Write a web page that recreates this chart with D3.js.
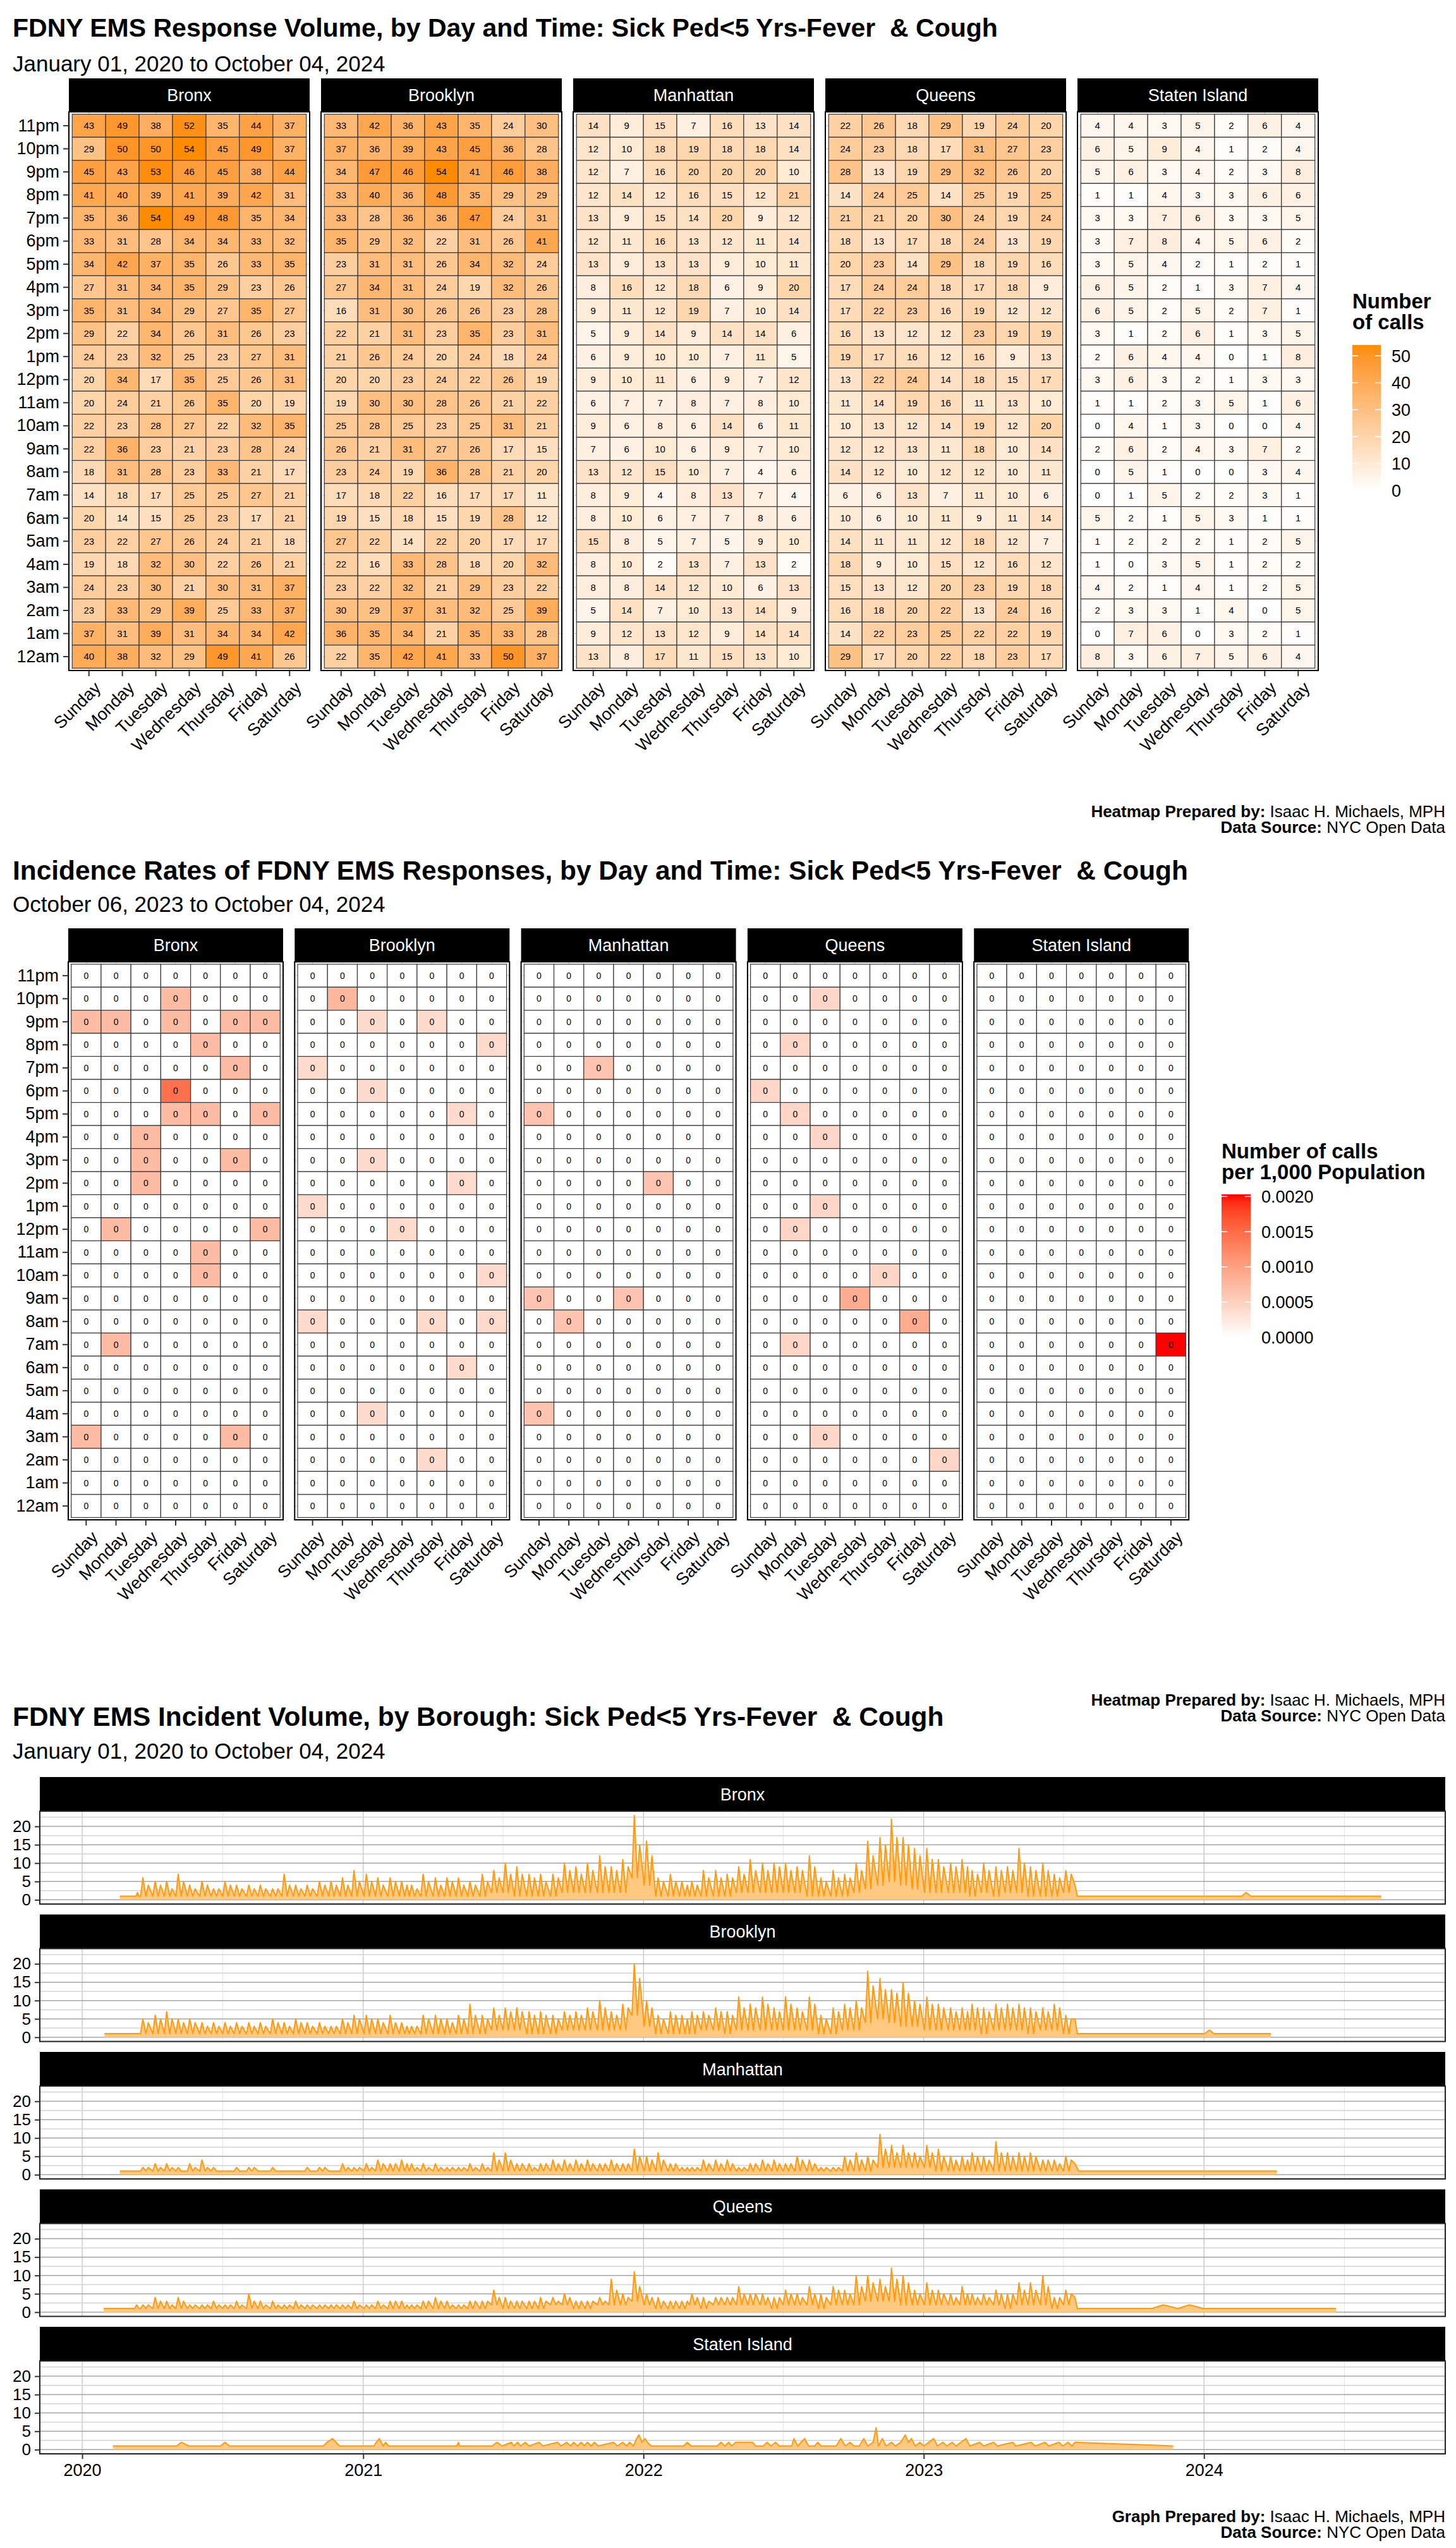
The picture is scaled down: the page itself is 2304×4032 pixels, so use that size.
<!DOCTYPE html>
<html>
<head>
<meta charset="utf-8">
<script src="https://cdn.jsdelivr.net/npm/d3@7"></script>
<style>
  body { margin: 0; background: #fff; }
  svg { display: block; }
  text { white-space: pre; }
</style>
</head>
<body>
<div id="chart"></div>
<script>
var W = 2304, H = 4032;
var FONT = "'Liberation Sans', Arial, Helvetica, sans-serif";

var boroughs = ["Bronx", "Brooklyn", "Manhattan", "Queens", "Staten Island"];
var days = ["Sunday", "Monday", "Tuesday", "Wednesday", "Thursday", "Friday", "Saturday"];
// top to bottom, as drawn
var hours = ["11pm", "10pm", "9pm", "8pm", "7pm", "6pm", "5pm", "4pm", "3pm", "2pm", "1pm", "12pm",
             "11am", "10am", "9am", "8am", "7am", "6am", "5am", "4am", "3am", "2am", "1am", "12am"];

// ---- heatmap 1: number of calls (rows follow `hours`, columns follow `days`)
var bronxCalls = [
  [43,49,38,52,35,44,37],[29,50,50,54,45,49,37],[45,43,53,46,45,38,44],[41,40,39,41,39,42,31],
  [35,36,54,49,48,35,34],[33,31,28,34,34,33,32],[34,42,37,35,26,33,35],[27,31,34,35,29,23,26],
  [35,31,34,29,27,35,27],[29,22,34,26,31,26,23],[24,23,32,25,23,27,31],[20,34,17,35,25,26,31],
  [20,24,21,26,35,20,19],[22,23,28,27,22,32,35],[22,36,23,21,23,28,24],[18,31,28,23,33,21,17],
  [14,18,17,25,25,27,21],[20,14,15,25,23,17,21],[23,22,27,26,24,21,18],[19,18,32,30,22,26,21],
  [24,23,30,21,30,31,37],[23,33,29,39,25,33,37],[37,31,39,31,34,34,42],[40,38,32,29,49,41,26]
];
var brooklynCalls = [
  [33,42,36,43,35,24,30],[37,36,39,43,45,36,28],[34,47,46,54,41,46,38],[33,40,36,48,35,29,29],
  [33,28,36,36,47,24,31],[35,29,32,22,31,26,41],[23,31,31,26,34,32,24],[27,34,31,24,19,32,26],
  [16,31,30,26,26,23,28],[22,21,31,23,35,23,31],[21,26,24,20,24,18,24],[20,20,23,24,22,26,19],
  [19,30,30,28,26,21,22],[25,28,25,23,25,31,21],[26,21,31,27,26,17,15],[23,24,19,36,28,21,20],
  [17,18,22,16,17,17,11],[19,15,18,15,19,28,12],[27,22,14,22,20,17,17],[22,16,33,28,18,20,32],
  [23,22,32,21,29,23,22],[30,29,37,31,32,25,39],[36,35,34,21,35,33,28],[22,35,42,41,33,50,37]
];
var manhattanCalls = [
  [14,9,15,7,16,13,14],[12,10,18,19,18,18,14],[12,7,16,20,20,20,10],[12,14,12,16,15,12,21],
  [13,9,15,14,20,9,12],[12,11,16,13,12,11,14],[13,9,13,13,9,10,11],[8,16,12,18,6,9,20],
  [9,11,12,19,7,10,14],[5,9,14,9,14,14,6],[6,9,10,10,7,11,5],[9,10,11,6,9,7,12],
  [6,7,7,8,7,8,10],[9,6,8,6,14,6,11],[7,6,10,6,9,7,10],[13,12,15,10,7,4,6],
  [8,9,4,8,13,7,4],[8,10,6,7,7,8,6],[15,8,5,7,5,9,10],[8,10,2,13,7,13,2],
  [8,8,14,12,10,6,13],[5,14,7,10,13,14,9],[9,12,13,12,9,14,14],[13,8,17,11,15,13,10]
];
var queensCalls = [
  [22,26,18,29,19,24,20],[24,23,18,17,31,27,23],[28,13,19,29,32,26,20],[14,24,25,14,25,19,25],
  [21,21,20,30,24,19,24],[18,13,17,18,24,13,19],[20,23,14,29,18,19,16],[17,24,24,18,17,18,9],
  [17,22,23,16,19,12,12],[16,13,12,12,23,19,19],[19,17,16,12,16,9,13],[13,22,24,14,18,15,17],
  [11,14,19,16,11,13,10],[10,13,12,14,19,12,20],[12,12,13,11,18,10,14],[14,12,10,12,12,10,11],
  [6,6,13,7,11,10,6],[10,6,10,11,9,11,14],[14,11,11,12,18,12,7],[18,9,10,15,12,16,12],
  [15,13,12,20,23,19,18],[16,18,20,22,13,24,16],[14,22,23,25,22,22,19],[29,17,20,22,18,23,17]
];
var statenCalls = [
  [4,4,3,5,2,6,4],[6,5,9,4,1,2,4],[5,6,3,4,2,3,8],[1,1,4,3,3,6,6],
  [3,3,7,6,3,3,5],[3,7,8,4,5,6,2],[3,5,4,2,1,2,1],[6,5,2,1,3,7,4],
  [6,5,2,5,2,7,1],[3,1,2,6,1,3,5],[2,6,4,4,0,1,8],[3,6,3,2,1,3,3],
  [1,1,2,3,5,1,6],[0,4,1,3,0,0,4],[2,6,2,4,3,7,2],[0,5,1,0,0,3,4],
  [0,1,5,2,2,3,1],[5,2,1,5,3,1,1],[1,2,2,2,1,2,5],[1,0,3,5,1,2,2],
  [4,2,1,4,1,2,5],[2,3,3,1,4,0,5],[0,7,6,0,3,2,1],[8,3,6,7,5,6,4]
];
var callsByBorough = [bronxCalls, brooklynCalls, manhattanCalls, queensCalls, statenCalls];
var callTicks = [0, 10, 20, 30, 40, 50];

// ---- heatmap 2: calls per 1,000 population (cells not listed are 0)
var rateCells = [
  ["Bronx","Wednesday","10pm",0.00072],["Bronx","Sunday","9pm",0.00072],["Bronx","Monday","9pm",0.00072],
  ["Bronx","Wednesday","9pm",0.00072],["Bronx","Friday","9pm",0.00072],["Bronx","Saturday","9pm",0.00072],
  ["Bronx","Thursday","8pm",0.00072],["Bronx","Friday","7pm",0.00072],["Bronx","Wednesday","6pm",0.00145],
  ["Bronx","Wednesday","5pm",0.00072],["Bronx","Thursday","5pm",0.00072],["Bronx","Saturday","5pm",0.00072],
  ["Bronx","Tuesday","4pm",0.00072],["Bronx","Tuesday","3pm",0.00072],["Bronx","Friday","3pm",0.00072],
  ["Bronx","Tuesday","2pm",0.00072],["Bronx","Monday","12pm",0.00072],["Bronx","Saturday","12pm",0.00072],
  ["Bronx","Thursday","11am",0.00072],["Bronx","Thursday","10am",0.00072],["Bronx","Monday","7am",0.00072],
  ["Bronx","Sunday","3am",0.00072],["Bronx","Friday","3am",0.00072],
  ["Brooklyn","Monday","10pm",0.00077],["Brooklyn","Tuesday","9pm",0.00039],["Brooklyn","Thursday","9pm",0.00039],
  ["Brooklyn","Saturday","8pm",0.00039],["Brooklyn","Sunday","7pm",0.00039],["Brooklyn","Tuesday","6pm",0.00039],
  ["Brooklyn","Friday","5pm",0.00039],["Brooklyn","Tuesday","3pm",0.00039],["Brooklyn","Friday","2pm",0.00039],
  ["Brooklyn","Sunday","1pm",0.00039],["Brooklyn","Wednesday","12pm",0.00039],["Brooklyn","Saturday","10am",0.00039],
  ["Brooklyn","Sunday","8am",0.00039],["Brooklyn","Thursday","8am",0.00039],["Brooklyn","Saturday","8am",0.00039],
  ["Brooklyn","Friday","6am",0.00039],["Brooklyn","Tuesday","4am",0.00039],["Brooklyn","Thursday","2am",0.00039],
  ["Manhattan","Tuesday","7pm",0.00063],["Manhattan","Sunday","5pm",0.00063],["Manhattan","Thursday","2pm",0.00063],
  ["Manhattan","Sunday","9am",0.00063],["Manhattan","Wednesday","9am",0.00063],["Manhattan","Monday","8am",0.00063],
  ["Manhattan","Sunday","4am",0.00063],
  ["Queens","Tuesday","10pm",0.00044],["Queens","Monday","8pm",0.00044],["Queens","Sunday","6pm",0.00044],
  ["Queens","Monday","5pm",0.00044],["Queens","Tuesday","4pm",0.00044],["Queens","Tuesday","1pm",0.00044],
  ["Queens","Monday","12pm",0.00044],["Queens","Thursday","10am",0.00044],["Queens","Wednesday","9am",0.00088],
  ["Queens","Friday","8am",0.00088],["Queens","Monday","7am",0.00044],["Queens","Tuesday","3am",0.00044],
  ["Queens","Saturday","2am",0.00044],
  ["Staten Island","Saturday","7am",0.00203]
];
var rateTicks = [0, 0.0005, 0.001, 0.0015, 0.002];

// ---- daily incident volume. Days are counted from Jan 1, 2020.
// Active period: half-month blocks from Mar 16, 2020 to Jul 1, 2023:
// tallest spike (hi), second spike (hi2) and trough (lo) of each block.
var bronxHead = [[49,1],[70,1],[72,2],[74,1]];
var bronxHi = [6,5,5,7,4,5,3,5,4,4,4,3,7,4,4,5,5,6,8,
  7,6,6,5,4,7,6,6,6,5,7,8,10,9,7,7,7,10,9,10,12,9,11,23,
  16,6,7,5,5,8,8,7,9,11,10,10,10,9,12,6,8,7,10,16,17,22,17,14,
  14,11,10,11,8,10,9,9,14,9,10,7,8];
var bronxHi2 = [4,4,3,5,3,4,3,4,3,3,3,3,4,3,3,4,4,4,5,
  5,4,5,4,3,5,4,5,4,4,5,6,7,7,6,5,6,8,7,8,9,8,9,15,
  12,5,5,4,4,6,6,6,7,8,8,9,8,8,9,5,6,6,8,12,15,17,15,12,
  11,9,9,9,7,8,8,8,10,8,8,6,7];
var bronxLo = [1,1,1,1,1,1,1,1,1,1,1,1,1,1,1,1,1,1,1,
  1,1,1,1,1,1,1,1,1,1,1,2,2,1,1,1,1,2,2,2,2,2,2,6,
  4,1,1,1,1,1,1,1,2,2,2,2,2,2,1,1,1,1,2,3,4,5,4,3,
  2,2,2,2,1,2,1,2,2,1,1,1,2];
var bronxTail = [[1293,4],[1296,1],[1510,1],[1516,2],[1522,1],[1692,1]];

var brooklynHead = [[29,1],[74,1]];
var brooklynHi = [5,6,7,5,5,4,4,4,4,4,4,5,4,5,4,4,3,5,6,
  6,5,6,4,3,6,6,5,6,9,6,8,8,8,7,7,6,7,7,8,10,7,9,20,
  10,6,7,6,7,7,8,7,11,9,11,8,11,8,11,6,8,9,10,18,16,13,15,10,
  11,9,8,8,9,8,9,9,9,8,8,9,6];
var brooklynHi2 = [4,5,5,4,4,3,3,3,3,3,3,4,3,4,3,3,3,4,5,
  5,4,4,3,3,5,5,4,5,6,5,6,7,7,6,6,5,6,6,7,8,6,8,16,
  8,5,6,5,6,6,7,6,8,8,9,7,9,7,9,5,7,8,8,14,13,12,12,9,
  9,8,7,7,8,7,8,8,8,7,7,8,5];
var brooklynLo = [1,1,1,1,1,1,1,1,1,1,1,1,1,1,1,1,1,1,1,
  1,1,1,1,1,1,1,1,1,1,1,2,2,2,1,1,1,2,2,2,2,2,2,6,
  3,1,1,1,1,2,2,1,2,2,2,2,2,2,2,1,1,2,2,4,5,4,3,3,
  2,2,2,2,2,1,2,2,2,1,2,2,1];
var brooklynTail = [[1293,5],[1296,1],[1462,1],[1468,2],[1474,1],[1548,1]];

var manhattanHead = [[49,1],[74,1]];
var manhattanHi = [2,3,3,2,3,4,2,1,2,2,1,2,1,1,2,2,1,3,2,
  3,4,3,4,3,3,3,2,2,3,3,6,6,3,3,3,4,4,4,4,3,4,3,7,
  5,6,3,2,2,4,4,4,2,3,4,4,3,5,4,2,2,5,6,5,11,8,8,6,
  8,7,5,5,6,5,9,6,6,6,4,4,5];
var manhattanHi2 = [2,2,2,1,2,2,1,1,1,2,1,1,1,1,1,2,1,2,2,
  2,3,3,3,2,2,2,2,2,2,2,4,4,3,2,3,3,3,3,3,3,3,3,5,
  4,4,3,2,2,3,3,3,2,3,3,3,3,4,3,2,2,4,4,4,7,6,6,5,
  6,5,4,4,5,4,6,5,5,5,4,3,4];
var manhattanLo = [1,1,1,1,1,1,1,1,1,1,1,1,1,1,1,1,1,1,1,
  1,1,1,1,1,1,1,1,1,1,1,1,1,1,1,1,1,1,1,1,1,1,1,1,
  1,1,1,1,1,1,1,1,1,1,1,1,1,1,1,1,1,1,1,1,2,2,2,2,
  2,1,1,1,1,1,1,1,1,1,1,1,1];
var manhattanTail = [[1293,3],[1298,1],[1556,1]];

var queensHead = [[28,1],[68,1],[71,2],[74,1]];
var queensHi = [2,4,3,4,2,2,3,2,3,5,3,3,2,3,2,2,2,2,3,
  2,3,3,3,2,3,4,3,2,3,3,6,4,3,3,4,4,5,3,3,4,9,5,11,
  5,4,3,3,5,4,4,4,7,5,5,4,6,5,7,5,7,6,10,10,9,12,10,6,
  8,6,5,7,5,5,6,5,8,8,10,4,6];
var queensHi2 = [2,3,2,3,2,2,2,2,2,3,2,2,2,2,2,2,2,2,2,
  2,2,3,2,2,3,3,2,2,3,3,4,3,3,3,3,3,4,3,3,3,6,4,7,
  4,3,3,3,4,3,4,4,5,5,4,4,5,4,5,4,6,5,7,8,7,9,8,5,
  6,5,4,5,4,4,5,5,6,6,7,4,5];
var queensLo = [1,1,1,1,1,1,1,1,1,1,1,1,1,1,1,1,1,1,1,
  1,1,1,1,1,1,1,1,1,1,1,2,1,1,1,1,2,2,1,1,2,2,2,3,
  2,1,1,1,2,1,2,2,2,2,2,1,2,2,2,1,2,2,2,3,3,3,2,2,
  2,2,2,2,2,2,2,1,2,2,2,1,2];
var queensTail = [[1293,4],[1296,1],[1393,1],[1408,2],[1427,1],[1442,2],[1460,1],[1633,1]];

var statenPoints = [[40,1],[123,1],[129,2],[139,1],[180,1],[186,2],[192,1],[314,1],[319,2],[326,3],[335,1],
  [380,1],[383,2],[387,3],[392,1],[395,2],[399,1],[488,1],[490,2],[491,1],[534,1],[540,2],[547,1],
  [559,2],[562,1],[567,2],[571,1],[577,2],[582,1],[595,2],[600,1],[619,2],[624,1],[631,2],[636,1],
  [640,2],[645,1],[650,2],[654,1],[658,2],[663,1],[667,2],[672,1],[692,2],[697,1],[704,2],[709,1],
  [713,2],[718,1],[722,3],[725,4],[729,2],[733,3],[736,2],[741,1],[783,1],[788,2],[793,1],[827,1],
  [832,2],[837,1],[842,2],[846,1],[851,2],[861,2],[873,2],[877,1],[887,1],[892,2],[897,1],[903,2],
  [908,1],[924,1],[927,3],[932,1],[936,2],[941,3],[946,1],[954,1],[958,2],[962,1],[982,1],[988,3],
  [994,1],[1000,2],[1005,1],[1012,1],[1018,3],[1023,1],[1030,2],[1034,6],[1037,1],[1042,3],[1047,1],
  [1054,2],[1059,1],[1066,2],[1072,4],[1076,2],[1080,3],[1085,1],[1091,2],[1096,1],[1109,3],[1114,1],
  [1121,2],[1126,1],[1133,2],[1138,1],[1151,3],[1156,1],[1169,2],[1174,1],[1187,2],[1192,1],[1212,2],
  [1216,1],[1236,2],[1241,1],[1254,2],[1259,1],[1272,2],[1277,1],[1284,2],[1289,1],[1293,2],[1421,1]];
var volumeTicks = [0, 5, 10, 15, 20];

// ------------------------------------------------------------------
var svg = d3.select("#chart").append("svg")
    .attr("width", W)
    .attr("height", H)
    .style("font-family", FONT);

svg.append("rect").attr("width", W).attr("height", H).attr("fill", "#fff");

function addText(txt, x, y, size, weight, anchor) {
  return svg.append("text")
      .attr("x", x).attr("y", y)
      .attr("dy", "0.36em")
      .attr("font-size", size)
      .attr("font-weight", weight || "normal")
      .attr("text-anchor", anchor || "start")
      .text(txt);
}

function addFooter(label, y) {
  [[label, " Isaac H. Michaels, MPH", 0], ["Data Source:", " NYC Open Data", 25]].forEach(function(r) {
    var t = svg.append("text")
        .attr("x", 2287).attr("y", y + r[2])
        .attr("dy", "0.36em")
        .attr("font-size", 26)
        .attr("text-anchor", "end");
    t.append("tspan").attr("font-weight", "bold").text(r[0]);
    t.append("tspan").text(r[1]);
  });
}

function colorbar(o) {
  var id = "grad" + o.id;
  var grad = svg.append("defs").append("linearGradient")
      .attr("id", id).attr("x1", 0).attr("y1", 1).attr("x2", 0).attr("y2", 0);
  d3.range(0, 1.0001, 0.05).forEach(function(t) {
    grad.append("stop").attr("offset", t).attr("stop-color", o.color(o.max * t));
  });
  var ys = d3.scaleLinear().domain([0, o.max]).range([o.y + o.h, o.y]);
  o.titles.forEach(function(t, i) {
    addText(t, o.x, o.titleY + i * 33, 33, "bold");
  });
  svg.append("rect").attr("x", o.x).attr("y", o.y).attr("width", o.w).attr("height", o.h)
      .attr("fill", "url(#" + id + ")");
  o.ticks.forEach(function(v) {
    [o.x, o.x + o.w * 0.8].forEach(function(x0) {
      svg.append("line").attr("x1", x0).attr("x2", x0 + o.w * 0.2)
          .attr("y1", ys(v)).attr("y2", ys(v)).attr("stroke", "#fff").attr("stroke-width", 1.5);
    });
    addText(o.fmt(v), o.x + o.w + 17, ys(v), 27);
  });
}

function drawHeatmap(o) {
  var x = d3.scaleBand().domain(days).range([0, o.w]).paddingOuter(0.1);
  var y = d3.scaleBand().domain(hours).range([0, o.h]).paddingOuter(0.1);

  boroughs.forEach(function(b, i) {
    var p = svg.append("g")
        .attr("transform", "translate(" + (o.left + i * o.step) + ", " + o.top + ")");

    p.append("rect").attr("x", 0).attr("y", -o.stripH)
        .attr("width", o.w).attr("height", o.stripH).attr("fill", "#000");
    p.append("text").attr("x", o.w / 2).attr("y", -o.stripH / 2).attr("dy", "0.36em")
        .attr("text-anchor", "middle").attr("fill", "#fff").attr("font-size", 27).text(b);

    p.selectAll(".gx").data(days).enter().append("line")
        .attr("x1", function(d) { return x(d) + x.bandwidth() / 2; })
        .attr("x2", function(d) { return x(d) + x.bandwidth() / 2; })
        .attr("y1", 0).attr("y2", o.h)
        .attr("stroke", "#c8c8c8").attr("stroke-width", 1);
    p.selectAll(".gy").data(hours).enter().append("line")
        .attr("y1", function(d) { return y(d) + y.bandwidth() / 2; })
        .attr("y2", function(d) { return y(d) + y.bandwidth() / 2; })
        .attr("x1", 0).attr("x2", o.w)
        .attr("stroke", "#c8c8c8").attr("stroke-width", 1);

    var cells = [];
    hours.forEach(function(h, r) {
      days.forEach(function(d, c) {
        cells.push({ day: d, hour: h, v: o.value(b, i, h, d, r, c) });
      });
    });

    p.selectAll(".cell").data(cells).enter().append("rect")
        .attr("x", function(d) { return x(d.day); })
        .attr("y", function(d) { return y(d.hour); })
        .attr("width", x.bandwidth())
        .attr("height", y.bandwidth())
        .attr("fill", function(d) { return o.color(d.v); })
        .attr("stroke", "#3a3a3a")
        .attr("stroke-width", 1.2);

    p.selectAll(".lab").data(cells).enter().append("text")
        .attr("x", function(d) { return x(d.day) + x.bandwidth() / 2; })
        .attr("y", function(d) { return y(d.hour) + y.bandwidth() / 2; })
        .attr("dy", "0.36em")
        .attr("text-anchor", "middle")
        .attr("font-size", o.labelSize)
        .text(function(d) { return o.fmt(d.v); });

    p.append("rect").attr("width", o.w).attr("height", o.h)
        .attr("fill", "none").attr("stroke", "#000").attr("stroke-width", 2);

    if (i === 0) {
      var ya = p.append("g").call(d3.axisLeft(y).tickSize(9).tickPadding(6));
      ya.attr("font-family", FONT).attr("font-size", 27);
      ya.select(".domain").remove();
      ya.selectAll("line").attr("stroke", "#333").attr("stroke-width", 2);
      ya.selectAll("text").attr("fill", "#000");
    }

    var xa = p.append("g").attr("transform", "translate(0, " + o.h + ")")
        .call(d3.axisBottom(x).tickSize(9).tickSizeOuter(0));
    xa.attr("font-family", FONT).attr("font-size", 27);
    xa.select(".domain").remove();
    xa.selectAll("line").attr("stroke", "#333").attr("stroke-width", 2);
    xa.selectAll("text")
        .attr("fill", "#000")
        .attr("x", 0).attr("y", 0).attr("dy", "0.75em")
        .attr("text-anchor", "end")
        .attr("transform", "translate(6, 15) rotate(-45)");
  });
}

// ===== chart 1
addText("FDNY EMS Response Volume, by Day and Time: Sick Ped<5 Yrs-Fever  & Cough", 20, 43, 41, "bold");
addText("January 01, 2020 to October 04, 2024", 20, 100, 35);

var maxCalls = d3.max(callsByBorough, function(m) { return d3.max(m, function(r) { return d3.max(r); }); });
var callColor = d3.scaleLinear().domain([0, maxCalls]).range(["#ffffff", "#ff8c00"]).interpolate(d3.interpolateLab);

drawHeatmap({
  left: 109, step: 399, w: 381, top: 177, h: 884, stripH: 53, labelSize: 15,
  color: callColor,
  fmt: d3.format("d"),
  value: function(b, i, h, d, r, c) { return callsByBorough[i][r][c]; }
});

colorbar({
  id: 1, x: 2140, y: 546, w: 45, h: 230, max: maxCalls, color: callColor,
  ticks: callTicks, fmt: d3.format("d"), titles: ["Number", "of calls"], titleY: 476
});

addFooter("Heatmap Prepared by:", 1284);

// ===== chart 2
addText("Incidence Rates of FDNY EMS Responses, by Day and Time: Sick Ped<5 Yrs-Fever  & Cough", 20, 1377, 42.4, "bold");
addText("October 06, 2023 to October 04, 2024", 20, 1430, 35);

var rateLookup = {};
rateCells.forEach(function(c) { rateLookup[c[0] + "|" + c[1] + "|" + c[2]] = c[3]; });
var maxRate = d3.max(rateCells, function(c) { return c[3]; });
var rateColor = d3.scaleLinear().domain([0, maxRate]).range(["#ffffff", "#ff0000"]).interpolate(d3.interpolateLab);

drawHeatmap({
  left: 108, step: 358.3, w: 340, top: 1522, h: 883, stripH: 53, labelSize: 14,
  color: rateColor,
  fmt: function(v) { return String(Math.round(v)); },
  value: function(b, i, h, d) { return rateLookup[b + "|" + d + "|" + h] || 0; }
});

colorbar({
  id: 2, x: 1933, y: 1890, w: 46, h: 226, max: maxRate, color: rateColor,
  ticks: rateTicks, fmt: d3.format(".4f"), titles: ["Number of calls", "per 1,000 Population"], titleY: 1821
});

addFooter("Heatmap Prepared by:", 2690);

// ===== chart 3
addText("FDNY EMS Incident Volume, by Borough: Sick Ped<5 Yrs-Fever  & Cough", 20, 2716, 42.4, "bold");
addText("January 01, 2020 to October 04, 2024", 20, 2770, 35);

var origin = new Date(2020, 0, 1);
function dayDate(n) { return d3.timeDay.offset(origin, n); }

function buildSeries(head, hi, hi2, lo, tail) {
  var pts = head.map(function(p) { return { date: dayDate(p[0]), v: p[1] }; });
  hi.forEach(function(h, k) {
    var start = new Date(2020, 2 + Math.floor((k + 1) / 2), k % 2 === 0 ? 16 : 1);
    pts.push({ date: d3.timeDay.offset(start, 1), v: lo[k] });
    pts.push({ date: d3.timeDay.offset(start, 4), v: h });
    pts.push({ date: d3.timeDay.offset(start, 8), v: lo[k] });
    pts.push({ date: d3.timeDay.offset(start, 11), v: hi2[k] });
  });
  tail.forEach(function(p) { pts.push({ date: dayDate(p[0]), v: p[1] }); });
  return pts;
}

var series = [
  buildSeries(bronxHead, bronxHi, bronxHi2, bronxLo, bronxTail),
  buildSeries(brooklynHead, brooklynHi, brooklynHi2, brooklynLo, brooklynTail),
  buildSeries(manhattanHead, manhattanHi, manhattanHi2, manhattanLo, manhattanTail),
  buildSeries(queensHead, queensHi, queensHi2, queensLo, queensTail),
  statenPoints.map(function(p) { return { date: dayDate(p[0]), v: p[1] }; })
];

var allPts = [].concat.apply([], series);
var dateExt = d3.extent(allPts, function(d) { return d.date; });
var span = dateExt[1] - dateExt[0];
var lx = d3.scaleTime()
    .domain([new Date(+dateExt[0] - span * 0.05), new Date(+dateExt[1] + span * 0.05)])
    .range([63, 2287]);
var vMax = d3.max(allPts, function(d) { return d.v; });
var plotH = 147, stripH3 = 54;
var ly = d3.scaleLinear().domain([-vMax * 0.05, vMax * 1.05]).range([plotH, 0]);

var area = d3.area()
    .x(function(d) { return lx(d.date); })
    .y0(ly(0))
    .y1(function(d) { return ly(d.v); });
var line = d3.line()
    .x(function(d) { return lx(d.date); })
    .y(function(d) { return ly(d.v); });

var yearTicks = lx.ticks(d3.timeYear);
var midTicks = d3.timeYear.range(new Date(2019, 0, 1), new Date(2025, 0, 1))
    .map(function(d) { return new Date(d.getFullYear(), 6, 2); })
    .filter(function(d) { return d > lx.domain()[0] && d < lx.domain()[1]; });

series.forEach(function(pts, i) {
  var top = 2812 + i * 217.5;
  svg.append("rect").attr("x", 63).attr("y", top).attr("width", 2224).attr("height", stripH3).attr("fill", "#000");
  svg.append("text").attr("x", 1175).attr("y", top + stripH3 / 2).attr("dy", "0.36em")
      .attr("text-anchor", "middle").attr("fill", "#fff").attr("font-size", 27).text(boroughs[i]);

  var g = svg.append("g").attr("transform", "translate(0, " + (top + stripH3) + ")");

  g.selectAll(".vmin").data(midTicks).enter().append("line")
      .attr("x1", function(d) { return lx(d); }).attr("x2", function(d) { return lx(d); })
      .attr("y1", 0).attr("y2", plotH).attr("stroke", "#e4e4e4").attr("stroke-width", 1);
  g.selectAll(".vmaj").data(yearTicks).enter().append("line")
      .attr("x1", function(d) { return lx(d); }).attr("x2", function(d) { return lx(d); })
      .attr("y1", 0).attr("y2", plotH).attr("stroke", "#b4b4b4").attr("stroke-width", 1);
  g.selectAll(".hmin").data([2.5, 7.5, 12.5, 17.5, 22.5]).enter().append("line")
      .attr("x1", 63).attr("x2", 2287)
      .attr("y1", function(d) { return ly(d); }).attr("y2", function(d) { return ly(d); })
      .attr("stroke", "#d4d4d4").attr("stroke-width", 1.5);
  g.selectAll(".hmaj").data(volumeTicks).enter().append("line")
      .attr("x1", 63).attr("x2", 2287)
      .attr("y1", function(d) { return ly(d); }).attr("y2", function(d) { return ly(d); })
      .attr("stroke", "#a4a4a4").attr("stroke-width", 1.5);

  g.append("path").datum(pts).attr("d", area).attr("fill", "#ffc982");
  g.append("path").datum(pts).attr("d", line)
      .attr("fill", "none").attr("stroke", "#ff9a0d").attr("stroke-width", 2)
      .attr("stroke-linejoin", "round");

  g.append("rect").attr("x", 63).attr("y", 0).attr("width", 2224).attr("height", plotH)
      .attr("fill", "none").attr("stroke", "#222").attr("stroke-width", 2);

  var ya = g.append("g").attr("transform", "translate(63, 0)")
      .call(d3.axisLeft(ly).tickValues(volumeTicks).tickSize(8).tickPadding(6));
  ya.attr("font-family", FONT).attr("font-size", 26);
  ya.select(".domain").remove();
  ya.selectAll("line").attr("stroke", "#333").attr("stroke-width", 2);
  ya.selectAll("text").attr("fill", "#000");

  if (i === series.length - 1) {
    var xa = g.append("g").attr("transform", "translate(0, " + plotH + ")")
        .call(d3.axisBottom(lx).tickValues(yearTicks).tickFormat(d3.timeFormat("%Y")).tickSize(8).tickPadding(8));
    xa.attr("font-family", FONT).attr("font-size", 27);
    xa.select(".domain").remove();
    xa.selectAll("line").attr("stroke", "#333").attr("stroke-width", 2);
    xa.selectAll("text").attr("fill", "#000");
  }
});

addFooter("Graph Prepared by:", 3982);
</script>
</body>
</html>
